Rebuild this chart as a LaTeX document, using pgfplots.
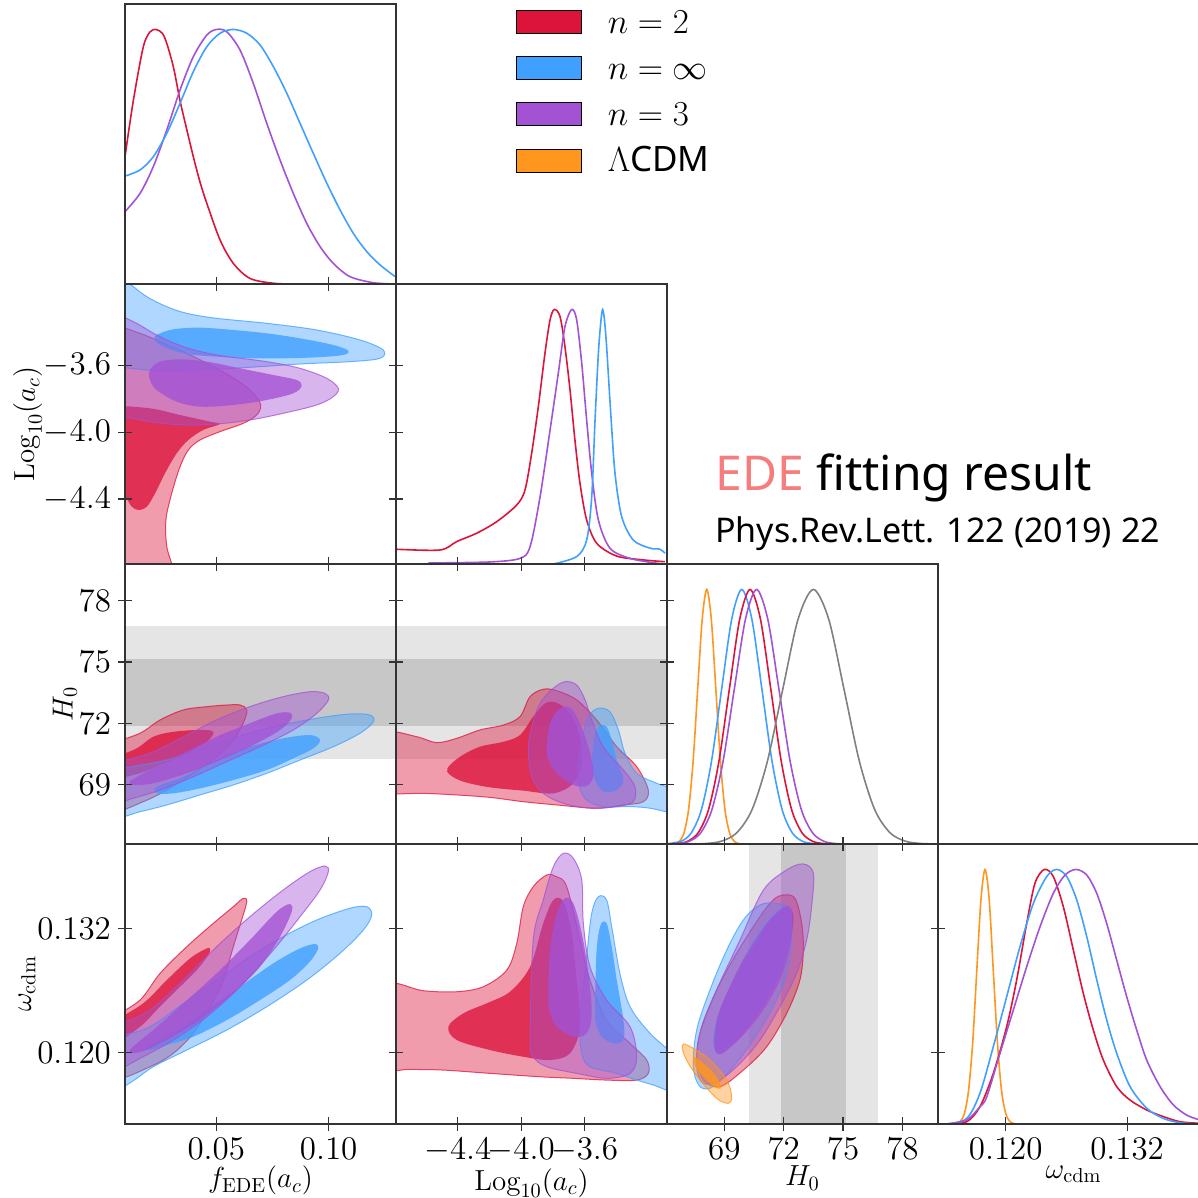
\RequirePackage{fix-cm}
\documentclass[border=0pt]{standalone}
\usepackage{fontspec}
\usepackage{pgfplots}
\pgfplotsset{compat=1.18}
\newfontfamily\ns{Noto Sans}
\definecolor{cR}{RGB}{220,20,60}
\definecolor{cB}{RGB}{64,160,255}
\definecolor{cP}{RGB}{163,82,212}
\definecolor{cO}{RGB}{255,150,30}
\definecolor{cG}{RGB}{128,128,128}
\definecolor{bandL}{RGB}{229,229,229}
\definecolor{bandD}{RGB}{199,199,199}
\definecolor{ede}{RGB}{245,125,125}
\newcommand\tickfont{\fontsize{16.5}{19}\selectfont}
\newcommand\labfont{\fontsize{14.5}{17}\selectfont}
\newcommand\legfont{\fontsize{17.5}{20}\selectfont}
\pgfplotsset{
 tri/.style={scale only axis, width=135.5pt, height=140pt, anchor=south west,
   axis on top, axis line style={line width=0.6pt, black!80},
   every tick/.style={line width=0.6pt, black!80},
   tick align=center, major tick length=7pt,
   tick label style={font=\tickfont}, label style={font=\labfont},
   xlabel shift=-3.5pt, ylabel shift=-6pt,
   xticklabels={,,,,}, yticklabels={,,,,}},
 colF/.style={xmin=0.0094, xmax=0.1300, xtick={0.05,0.10}},
 colL/.style={xmin=-4.79, xmax=-3.08, xtick={-4.4,-4.0,-3.6}},
 colH/.style={xmin=66.1, xmax=79.8, xtick={69,72,75,78}},
 colW/.style={xmin=0.1133, xmax=0.1401, xtick={0.120,0.132}},
 rowL/.style={ymin=-4.79, ymax=-3.11, ytick={-4.4,-4.0,-3.6}},
 rowH/.style={ymin=66.1, ymax=79.8, ytick={69,72,75,78}},
 rowW/.style={ymin=0.1131, ymax=0.1402, ytick={0.120,0.132}},
 oneD/.style={ymin=0, ymax=1.1, ytick=\empty, xtick pos=left},
 s2/.style={smooth cycle, tension=0.55, fill=#1, fill opacity=0.42, draw=#1, draw opacity=0.75, line width=0.5pt, forget plot},
 s1/.style={smooth cycle, tension=0.55, fill=#1, fill opacity=0.8, draw=none, forget plot},
 ln/.style={smooth, tension=0.5, draw=#1, line width=0.8pt, forget plot},
 bnd/.style={fill=#1, draw=none, forget plot},
}
\begin{document}
\begin{tikzpicture}
\path[use as bounding box, clip] (0,0) rectangle (599pt,599pt);
% ---------- (1,1) fEDE 1D
\begin{axis}[tri, colF, oneD, at={(62.5pt,457pt)},
  legend image code/.code={\fill[#1] (0pt,0pt) rectangle (32.5pt,11.5pt);},
  legend style={at={(1.4428,0.9786)}, anchor=north west, draw=none, fill=none,
    inner sep=0pt, outer sep=0pt, row sep=11.2pt, font=\legfont,
    nodes={inner sep=0pt, text height=11.5pt, text depth=0pt},
    cells={anchor=base west}, /tikz/every odd column/.append style={column sep=13pt}}]
\addplot[ln=cR] coordinates {(0.0094,0.50)(0.0131,0.72)(0.0175,0.93)(0.0205,0.99)(0.0232,1.00)(0.0260,0.985)(0.0280,0.945)(0.0310,0.85)(0.0339,0.72)(0.0368,0.61)(0.0398,0.50)(0.0428,0.40)(0.0458,0.317)(0.0517,0.173)(0.0576,0.081)(0.0650,0.022)(0.0754,0.003)(0.0873,0.0)(0.1300,0.0)};
\addplot[ln=cP] coordinates {(0.0094,0.284)(0.0161,0.356)(0.0220,0.461)(0.0280,0.605)(0.0339,0.762)(0.0398,0.893)(0.0458,0.978)(0.0502,1.0)(0.0547,0.991)(0.0606,0.919)(0.0665,0.788)(0.0725,0.631)(0.0784,0.487)(0.0843,0.356)(0.0903,0.238)(0.0962,0.147)(0.1021,0.081)(0.1095,0.029)(0.1199,0.005)(0.1300,0.0)};
\addplot[ln=cB] coordinates {(0.0094,0.424)(0.0161,0.448)(0.0220,0.500)(0.0280,0.592)(0.0339,0.710)(0.0398,0.834)(0.0458,0.932)(0.0517,0.985)(0.0576,1.0)(0.0636,0.985)(0.0695,0.939)(0.0754,0.854)(0.0814,0.749)(0.0873,0.631)(0.0932,0.513)(0.0992,0.396)(0.1051,0.291)(0.1110,0.199)(0.1170,0.127)(0.1229,0.075)(0.1296,0.029)};
\addlegendimage{fill=cR}\addlegendentry{$n=2$}
\addlegendimage{fill=cB}\addlegendentry{$n=\infty$}
\addlegendimage{fill=cP}\addlegendentry{$n=3$}
\addlegendimage{fill=cO}\addlegendentry{$\Lambda${\ns CDM}}
\end{axis}
% ---------- (2,1) fEDE vs log ac
\begin{axis}[tri, colF, rowL, at={(62.5pt,317pt)},
  yticklabels={$-4.4$,$-4.0$,$-3.6$}, ylabel={$\mathrm{Log}_{10}(a_c)$}]
\addplot[s2=cR] coordinates {(0.0161,-3.406)(0.0250,-3.456)(0.0369,-3.526)(0.0487,-3.606)(0.0591,-3.686)(0.0665,-3.766)(0.0698,-3.836)(0.0680,-3.896)(0.0620,-3.946)(0.0517,-3.996)(0.0428,-4.046)(0.0376,-4.106)(0.0339,-4.206)(0.0302,-4.366)(0.0276,-4.526)(0.0280,-4.686)(0.0310,-4.88)(0.0200,-5.0)(-0.002,-4.95)(-0.010,-4.3)(-0.010,-3.6)(-0.006,-3.40)(0.001,-3.345)};
\addplot[s1=cR] coordinates {(0.0205,-3.856)(0.0339,-3.896)(0.0472,-3.936)(0.0517,-3.950)(0.0442,-3.986)(0.0376,-4.046)(0.0324,-4.126)(0.0272,-4.246)(0.0228,-4.366)(0.0191,-4.446)(0.0153,-4.466)(0.0124,-4.446)(0.0102,-4.396)(0.007,-4.33)(0.000,-4.1)(0.000,-3.9)(0.004,-3.845)};
\addplot[s2=cB] coordinates {(0.0191,-3.186)(0.0280,-3.246)(0.0369,-3.286)(0.0502,-3.316)(0.0725,-3.346)(0.0947,-3.386)(0.1140,-3.446)(0.1243,-3.506)(0.1229,-3.556)(0.1095,-3.576)(0.0873,-3.590)(0.0650,-3.610)(0.0428,-3.626)(0.0280,-3.630)(0.0161,-3.622)(0.004,-3.59)(-0.004,-3.45)(-0.004,-3.15)(0.002,-3.03)(0.0105,-3.10)};
\addplot[s1=cB] coordinates {(0.0235,-3.416)(0.0309,-3.382)(0.0428,-3.372)(0.0576,-3.386)(0.0725,-3.406)(0.0873,-3.436)(0.1021,-3.476)(0.1088,-3.510)(0.1066,-3.536)(0.0947,-3.550)(0.0798,-3.556)(0.0650,-3.556)(0.0502,-3.546)(0.0369,-3.530)(0.0264,-3.486)(0.0228,-3.446)};
\addplot[s2=cP] coordinates {(0.0131,-3.336)(0.0235,-3.416)(0.0354,-3.486)(0.0502,-3.536)(0.0725,-3.576)(0.0873,-3.616)(0.0992,-3.676)(0.1043,-3.736)(0.1021,-3.786)(0.0947,-3.836)(0.0798,-3.886)(0.0650,-3.926)(0.0502,-3.950)(0.0354,-3.956)(0.0205,-3.936)(0.0131,-3.916)(0.005,-3.89)(-0.003,-3.7)(-0.003,-3.4)(0.003,-3.29)};
\addplot[s1=cP] coordinates {(0.0205,-3.626)(0.0250,-3.576)(0.0339,-3.562)(0.0458,-3.576)(0.0606,-3.616)(0.0754,-3.656)(0.0858,-3.686)(0.0880,-3.722)(0.0843,-3.766)(0.0725,-3.806)(0.0576,-3.836)(0.0428,-3.846)(0.0324,-3.816)(0.0235,-3.746)(0.0205,-3.686)};
\end{axis}
% ---------- (2,2) log ac 1D
\begin{axis}[tri, colL, oneD, at={(198pt,317pt)}]
\addplot[ln=cR] coordinates {(-4.79,0.058)(-4.512,0.055)(-4.407,0.088)(-4.281,0.121)(-4.155,0.166)(-4.028,0.232)(-3.976,0.291)(-3.934,0.435)(-3.892,0.618)(-3.850,0.828)(-3.818,0.959)(-3.791,1.0)(-3.755,0.972)(-3.724,0.854)(-3.692,0.684)(-3.661,0.487)(-3.629,0.317)(-3.587,0.173)(-3.523,0.081)(-3.397,0.031)(-3.229,0.016)(-3.093,0.009)};
\addplot[ln=cP] coordinates {(-4.586,0.004)(-4.197,0.008)(-4.008,0.022)(-3.944,0.068)(-3.881,0.264)(-3.818,0.526)(-3.766,0.749)(-3.724,0.932)(-3.681,1.0)(-3.650,0.959)(-3.618,0.788)(-3.587,0.566)(-3.555,0.356)(-3.513,0.173)(-3.440,0.062)(-3.313,0.022)(-3.145,0.003)(-3.08,0.0)};
\addplot[ln=cB] coordinates {(-3.797,0.0)(-3.650,0.029)(-3.587,0.094)(-3.555,0.264)(-3.534,0.566)(-3.513,0.828)(-3.497,0.955)(-3.486,1.0)(-3.475,0.96)(-3.461,0.854)(-3.435,0.592)(-3.408,0.356)(-3.366,0.186)(-3.293,0.094)(-3.187,0.062)(-3.124,0.058)(-3.093,0.042)};
\end{axis}
% ---------- (3,1) fEDE vs H0
\begin{axis}[tri, colF, rowH, at={(62.5pt,177pt)},
  yticklabels={$69$,$72$,$75$,$78$}, ylabel={$H_0$}]
\addplot[bnd=bandL] coordinates {(-1,70.24)(1,70.24)(1,76.76)(-1,76.76)} --cycle;
\addplot[bnd=bandD] coordinates {(-1,71.87)(1,71.87)(1,75.13)(-1,75.13)} --cycle;
\addplot[s2=cR] coordinates {(0.0161,71.52)(0.0250,72.17)(0.0354,72.66)(0.0458,72.82)(0.0547,72.90)(0.0606,72.90)(0.0636,72.66)(0.0620,72.01)(0.0576,71.19)(0.0502,70.37)(0.0398,69.56)(0.0280,68.74)(0.0175,68.17)(0.003,67.62)(-0.005,68.3)(-0.005,70.3)(0.003,70.98)};
\addplot[s1=cR] coordinates {(0.0146,70.78)(0.0220,71.35)(0.0309,71.59)(0.0428,71.68)(0.0487,71.59)(0.0458,71.10)(0.0369,70.54)(0.0250,69.96)(0.0161,69.56)(0.003,69.30)(-0.004,69.8)(0.003,70.25)};
\addplot[s2=cB] coordinates {(0.0280,70.21)(0.0502,71.03)(0.0725,71.76)(0.0947,72.25)(0.1095,72.46)(0.1184,72.41)(0.1199,72.08)(0.1140,71.52)(0.1021,70.86)(0.0873,70.21)(0.0725,69.56)(0.0576,68.99)(0.0428,68.50)(0.0280,68.01)(0.0161,67.68)(0.003,67.35)(-0.004,68.3)(-0.004,69.2)(0.004,69.7)};
\addplot[s1=cB] coordinates {(0.0235,68.90)(0.0354,69.39)(0.0502,70.21)(0.0650,70.86)(0.0798,71.27)(0.0917,71.43)(0.0962,71.19)(0.0932,70.78)(0.0843,70.29)(0.0725,69.72)(0.0576,69.23)(0.0428,68.82)(0.0309,68.58)(0.0235,68.58)};
\addplot[s2=cP] coordinates {(0.0205,70.54)(0.0354,71.35)(0.0502,72.17)(0.0650,72.82)(0.0798,73.31)(0.0917,73.55)(0.0984,73.47)(0.0999,73.15)(0.0947,72.49)(0.0843,71.68)(0.0695,70.86)(0.0547,70.13)(0.0398,69.39)(0.0250,68.74)(0.0131,68.34)(0.002,68.05)(-0.005,68.8)(-0.005,69.5)(0.003,70.0)};
\addplot[s1=cP] coordinates {(0.0124,69.23)(0.0205,69.72)(0.0354,70.54)(0.0502,71.35)(0.0650,72.01)(0.0769,72.49)(0.0828,72.52)(0.0836,72.25)(0.0784,71.68)(0.0665,70.94)(0.0517,70.21)(0.0369,69.56)(0.0220,69.07)(0.0131,68.99)(0.0116,69.10)};
\end{axis}
% ---------- (3,2) log ac vs H0
\begin{axis}[tri, colL, rowH, at={(198pt,177pt)}]
\addplot[bnd=bandL] coordinates {(-6,70.24)(-2,70.24)(-2,76.76)(-6,76.76)} --cycle;
\addplot[bnd=bandD] coordinates {(-6,71.87)(-2,71.87)(-2,75.13)(-6,75.13)} --cycle;
\addplot[s2=cR] coordinates {(-4.659,71.35)(-4.533,71.06)(-4.407,71.27)(-4.260,71.68)(-4.113,71.92)(-4.008,72.33)(-3.944,73.31)(-3.861,73.67)(-3.776,73.60)(-3.650,73.15)(-3.524,72.17)(-3.397,70.86)(-3.271,69.88)(-3.198,68.74)(-3.229,68.17)(-3.355,68.01)(-3.524,67.85)(-3.776,68.01)(-3.987,68.17)(-4.197,68.38)(-4.407,68.50)(-4.618,68.58)(-4.86,68.62)(-4.90,69.5)(-4.90,70.8)(-4.86,71.62)};
\addplot[s1=cR] coordinates {(-4.466,69.80)(-4.386,70.37)(-4.260,70.86)(-4.113,71.10)(-4.008,71.43)(-3.924,72.33)(-3.850,72.98)(-3.776,73.01)(-3.692,72.49)(-3.629,71.35)(-3.618,70.05)(-3.671,69.07)(-3.797,68.58)(-3.987,68.71)(-4.197,68.87)(-4.365,69.15)(-4.449,69.48)};
\addplot[s2=cB] coordinates {(-3.640,69.88)(-3.618,71.19)(-3.576,72.33)(-3.513,72.74)(-3.440,72.57)(-3.387,71.68)(-3.345,70.54)(-3.271,69.56)(-3.145,69.07)(-3.02,68.7)(-2.98,68.0)(-3.02,67.6)(-3.187,67.85)(-3.313,67.93)(-3.482,67.93)(-3.587,68.25)(-3.633,68.90)};
\addplot[s1=cB] coordinates {(-3.545,70.86)(-3.534,71.52)(-3.503,71.89)(-3.461,71.84)(-3.429,71.19)(-3.397,70.21)(-3.355,69.23)(-3.397,68.74)(-3.482,68.66)(-3.534,69.23)(-3.555,70.05)};
\addplot[s2=cP] coordinates {(-3.955,70.70)(-3.934,71.84)(-3.881,72.98)(-3.797,73.72)(-3.724,74.04)(-3.650,73.88)(-3.597,73.15)(-3.555,72.17)(-3.482,70.86)(-3.355,69.72)(-3.282,68.90)(-3.293,68.17)(-3.397,67.93)(-3.566,67.85)(-3.734,68.09)(-3.861,68.58)(-3.934,69.39)};
\addplot[s1=cP] coordinates {(-3.839,70.86)(-3.818,72.01)(-3.766,72.66)(-3.703,72.82)(-3.650,72.33)(-3.597,71.35)(-3.555,70.21)(-3.545,69.39)(-3.587,68.94)(-3.671,68.99)(-3.776,69.56)(-3.829,70.21)};
\end{axis}
% ---------- (3,3) H0 1D
\begin{axis}[tri, colH, oneD, at={(333.5pt,177pt)}]
\addplot[ln=cO] coordinates {(66.1,0.0)(66.50,0.002)(66.73,0.011)(66.96,0.044)(67.19,0.135)(67.42,0.325)(67.65,0.607)(67.88,0.883)(68.11,1.0)(68.34,0.883)(68.57,0.607)(68.80,0.325)(69.03,0.135)(69.26,0.044)(69.49,0.011)(69.72,0.002)(69.95,0.0)(70.5,0.0)};
\addplot[ln=cB] coordinates {(66.1,0.001)(66.82,0.011)(67.33,0.044)(67.84,0.135)(68.35,0.325)(68.86,0.607)(69.37,0.883)(69.88,1.0)(70.39,0.883)(70.90,0.607)(71.41,0.325)(71.92,0.135)(72.43,0.044)(72.94,0.011)(73.45,0.002)(73.96,0.0)(74.5,0.0)};
\addplot[ln=cR] coordinates {(66.1,0.0003)(66.63,0.002)(67.15,0.011)(67.675,0.044)(68.20,0.135)(68.725,0.325)(69.25,0.607)(69.775,0.883)(70.30,1.0)(70.825,0.883)(71.35,0.607)(71.875,0.325)(72.40,0.135)(72.925,0.044)(73.45,0.011)(73.975,0.002)(74.50,0.0)(75.0,0.0)};
\addplot[ln=cP] coordinates {(66.11,0.0003)(66.675,0.002)(67.24,0.011)(67.805,0.044)(68.37,0.135)(68.935,0.325)(69.50,0.607)(70.065,0.883)(70.63,1.0)(71.195,0.883)(71.76,0.607)(72.325,0.325)(72.89,0.135)(73.455,0.044)(74.02,0.011)(74.585,0.002)(75.15,0.0)(75.6,0.0)};
\addplot[ln=cG] coordinates {(66.1,0.0)(67.30,0.0003)(68.075,0.002)(68.85,0.011)(69.625,0.044)(70.40,0.135)(71.175,0.325)(71.95,0.607)(72.725,0.883)(73.50,1.0)(74.275,0.883)(75.05,0.607)(75.825,0.325)(76.60,0.135)(77.375,0.044)(78.15,0.011)(78.925,0.002)(79.70,0.0003)};
\end{axis}
% ---------- (4,1) fEDE vs omega
\begin{axis}[tri, colF, rowW, at={(62.5pt,37pt)},
  yticklabels={$0.120$,$0.132$}, ylabel={$\omega_{\mathrm{cdm}}$},
  xticklabels={$0.05$,$0.10$}, xlabel={$f_{\mathrm{EDE}}(a_c)$}]
\addplot[s2=cR] coordinates {(0.0161,0.12510)(0.0250,0.12768)(0.0369,0.13026)(0.0487,0.13252)(0.0576,0.13413)(0.0620,0.13494)(0.0636,0.13461)(0.0613,0.13284)(0.0576,0.13026)(0.0532,0.12703)(0.0472,0.12445)(0.0398,0.12188)(0.0309,0.11994)(0.0205,0.11864)(0.004,0.11740)(-0.004,0.1195)(-0.004,0.1220)(0.004,0.12340)};
\addplot[s1=cR] coordinates {(0.0175,0.12478)(0.0280,0.12703)(0.0384,0.12914)(0.0450,0.13001)(0.0472,0.13010)(0.0465,0.12946)(0.0413,0.12800)(0.0324,0.12607)(0.0235,0.12413)(0.0161,0.12251)(0.004,0.12090)(-0.003,0.1220)(0.004,0.12300)};
\addplot[s2=cB] coordinates {(0.0205,0.12251)(0.0354,0.12478)(0.0502,0.12703)(0.0650,0.12929)(0.0798,0.13123)(0.0947,0.13284)(0.1095,0.13398)(0.1170,0.13413)(0.1192,0.13333)(0.1155,0.13188)(0.1051,0.12962)(0.0903,0.12703)(0.0725,0.12445)(0.0547,0.12220)(0.0369,0.12026)(0.0220,0.11864)(0.0124,0.11719)(0.003,0.1162)(-0.004,0.1180)(-0.003,0.1205)(0.006,0.12150)};
\addplot[s1=cB] coordinates {(0.0191,0.12058)(0.0309,0.12188)(0.0458,0.12413)(0.0606,0.12639)(0.0754,0.12865)(0.0873,0.13010)(0.0940,0.13052)(0.0954,0.13010)(0.0917,0.12881)(0.0828,0.12703)(0.0695,0.12510)(0.0547,0.12316)(0.0398,0.12155)(0.0280,0.12074)(0.0205,0.12026)};
\addplot[s2=cP] coordinates {(0.0205,0.12413)(0.0354,0.12703)(0.0502,0.13026)(0.0650,0.13316)(0.0798,0.13575)(0.0917,0.13752)(0.0984,0.13807)(0.0999,0.13752)(0.0962,0.13575)(0.0873,0.13316)(0.0754,0.12994)(0.0606,0.12639)(0.0458,0.12348)(0.0309,0.12123)(0.0175,0.11962)(0.003,0.1182)(-0.004,0.1200)(-0.003,0.1215)(0.005,0.12250)};
\addplot[s1=cP] coordinates {(0.0115,0.12025)(0.0220,0.12220)(0.0354,0.12478)(0.0502,0.12768)(0.0650,0.13091)(0.0769,0.13365)(0.0828,0.13439)(0.0836,0.13365)(0.0784,0.13123)(0.0695,0.12832)(0.0576,0.12575)(0.0428,0.12316)(0.0280,0.12123)(0.0161,0.12005)};
\end{axis}
% ---------- (4,2) log ac vs omega
\begin{axis}[tri, colL, rowW, at={(198pt,37pt)},
  xticklabels={$-4.4$,$-4.0$,$-3.6$}, xlabel={$\mathrm{Log}_{10}(a_c)$}]
\addplot[s2=cR] coordinates {(-4.618,0.12600)(-4.407,0.12590)(-4.239,0.12639)(-4.091,0.12800)(-4.028,0.13059)(-3.987,0.13413)(-3.924,0.13607)(-3.839,0.13720)(-3.776,0.13703)(-3.713,0.13607)(-3.629,0.13091)(-3.566,0.12703)(-3.461,0.12316)(-3.313,0.12090)(-3.208,0.11929)(-3.198,0.11800)(-3.271,0.11735)(-3.461,0.11735)(-3.671,0.11752)(-3.881,0.11767)(-4.197,0.11800)(-4.491,0.11832)(-4.702,0.11839)(-4.86,0.1185)(-4.90,0.1220)(-4.86,0.12660)};
\addplot[s1=cR] coordinates {(-4.460,0.12251)(-4.365,0.12381)(-4.218,0.12478)(-4.071,0.12590)(-3.944,0.12832)(-3.861,0.13252)(-3.797,0.13478)(-3.734,0.13461)(-3.681,0.13156)(-3.650,0.12703)(-3.629,0.12251)(-3.692,0.11994)(-3.818,0.11929)(-3.987,0.11961)(-4.197,0.12026)(-4.407,0.12123)};
\addplot[s2=cB] coordinates {(-3.629,0.12284)(-3.587,0.12929)(-3.555,0.13349)(-3.513,0.13510)(-3.461,0.13478)(-3.429,0.13220)(-3.377,0.12768)(-3.313,0.12445)(-3.187,0.12188)(-3.02,0.1195)(-2.99,0.1180)(-3.02,0.1162)(-3.166,0.11687)(-3.271,0.11735)(-3.397,0.11800)(-3.566,0.11864)(-3.618,0.11994)};
\addplot[s1=cB] coordinates {(-3.534,0.12445)(-3.524,0.12994)(-3.499,0.13236)(-3.461,0.13252)(-3.429,0.13026)(-3.397,0.12703)(-3.355,0.12316)(-3.355,0.12123)(-3.419,0.12090)(-3.492,0.12155)(-3.528,0.12284)};
\addplot[s2=cP] coordinates {(-3.944,0.12123)(-3.924,0.13091)(-3.861,0.13478)(-3.797,0.13800)(-3.734,0.13930)(-3.671,0.13881)(-3.618,0.13672)(-3.608,0.13252)(-3.566,0.12832)(-3.461,0.12510)(-3.313,0.12251)(-3.271,0.11961)(-3.313,0.11800)(-3.461,0.11752)(-3.650,0.11800)(-3.839,0.11864)(-3.924,0.11961)};
\addplot[s1=cP] coordinates {(-3.829,0.12542)(-3.818,0.12994)(-3.776,0.13349)(-3.724,0.13494)(-3.671,0.13446)(-3.618,0.13156)(-3.576,0.12768)(-3.555,0.12381)(-3.587,0.12188)(-3.671,0.12155)(-3.776,0.12251)(-3.818,0.12381)};
\end{axis}
% ---------- (4,3) H0 vs omega
\begin{axis}[tri, colH, rowW, at={(333.5pt,37pt)},
  xticklabels={$69$,$72$,$75$,$78$}, xlabel={$H_0$}]
\addplot[bnd=bandL] coordinates {(70.24,0.10)(76.76,0.10)(76.76,0.15)(70.24,0.15)} --cycle;
\addplot[bnd=bandD] coordinates {(71.87,0.10)(75.13,0.10)(75.13,0.15)(71.87,0.15)} --cycle;
\addplot[s2=cR] coordinates {(71.98,0.13527)(72.57,0.13494)(72.91,0.13252)(72.99,0.12994)(72.82,0.12704)(72.15,0.12381)(71.14,0.12058)(69.96,0.11832)(68.78,0.11671)(67.94,0.11736)(67.60,0.11961)(67.85,0.12252)(68.61,0.12607)(69.62,0.12962)(70.80,0.13317)(71.47,0.13478)};
\addplot[s1=cR] coordinates {(72.32,0.13397)(72.49,0.13285)(72.23,0.12994)(71.64,0.12704)(70.80,0.12413)(69.79,0.12155)(68.95,0.12026)(68.53,0.12074)(68.61,0.12316)(69.28,0.12639)(70.13,0.12962)(71.14,0.13252)(71.90,0.13381)};
\addplot[s2=cB] coordinates {(70.80,0.13430)(71.64,0.13446)(72.32,0.13381)(72.40,0.13091)(72.15,0.12768)(71.47,0.12446)(70.46,0.12123)(69.45,0.11865)(68.44,0.11671)(67.77,0.11671)(67.43,0.11865)(67.60,0.12220)(68.27,0.12607)(69.12,0.12994)(69.96,0.13285)};
\addplot[s1=cB] coordinates {(72.07,0.13413)(72.40,0.13365)(72.32,0.13091)(71.81,0.12768)(70.97,0.12478)(69.96,0.12220)(69.12,0.12026)(68.61,0.11994)(68.44,0.12155)(68.86,0.12446)(69.62,0.12768)(70.63,0.13123)(71.47,0.13333)};
\addplot[s2=cP] coordinates {(72.15,0.13769)(72.99,0.13827)(73.50,0.13736)(73.41,0.13414)(73.16,0.13091)(72.65,0.12768)(71.81,0.12446)(70.80,0.12123)(69.79,0.11897)(68.78,0.11736)(67.94,0.11703)(67.60,0.11865)(67.77,0.12187)(68.61,0.12607)(69.79,0.13091)(70.97,0.13573)};
\addplot[s1=cP] coordinates {(72.15,0.13420)(72.45,0.13333)(72.32,0.13026)(71.81,0.12704)(70.97,0.12413)(69.96,0.12171)(69.03,0.12010)(68.61,0.11994)(68.49,0.12123)(68.78,0.12413)(69.45,0.12704)(70.30,0.12994)(71.31,0.13285)};
\addplot[s2=cO] coordinates {(66.93,0.12084)(67.43,0.12042)(68.27,0.11929)(69.12,0.11736)(69.37,0.11574)(69.20,0.11510)(68.61,0.11558)(67.77,0.11736)(67.18,0.11897)(66.89,0.12026)};
\addplot[s1=cO] coordinates {(67.43,0.11961)(67.94,0.11897)(68.53,0.11784)(68.86,0.11671)(68.61,0.11655)(68.02,0.11752)(67.57,0.11849)};
\end{axis}
% ---------- (4,4) omega 1D
\begin{axis}[tri, colW, oneD, at={(469pt,37pt)},
  xticklabels={$0.120$,$0.132$}, xlabel={$\omega_{\mathrm{cdm}}$}]
\addplot[ln=cO] coordinates {(0.1133,0.0)(0.11471,0.0003)(0.11512,0.002)(0.11552,0.011)(0.11593,0.044)(0.11633,0.135)(0.11674,0.325)(0.11714,0.607)(0.11755,0.883)(0.11795,1.0)(0.11836,0.883)(0.11876,0.607)(0.11917,0.325)(0.11957,0.135)(0.11998,0.044)(0.12038,0.011)(0.12079,0.002)(0.12119,0.0003)(0.1230,0.0)};
\addplot[ln=cR] coordinates {(0.1133,0.0)(0.11416,0.0)(0.11614,0.009)(0.11745,0.068)(0.11877,0.199)(0.12009,0.382)(0.12108,0.566)(0.12207,0.788)(0.12289,0.946)(0.12381,1.0)(0.12470,0.972)(0.12569,0.854)(0.12668,0.684)(0.12767,0.513)(0.12866,0.369)(0.12965,0.251)(0.13097,0.147)(0.13229,0.094)(0.13394,0.055)(0.13558,0.029)(0.13723,0.009)(0.13901,0.003)};
\addplot[ln=cB] coordinates {(0.1133,0.0)(0.11416,0.0)(0.11614,0.022)(0.11745,0.121)(0.11877,0.304)(0.12009,0.500)(0.12141,0.697)(0.12273,0.867)(0.12405,0.972)(0.12504,1.0)(0.12603,0.972)(0.12702,0.880)(0.12801,0.736)(0.12900,0.566)(0.12998,0.409)(0.13097,0.278)(0.13229,0.147)(0.13394,0.062)(0.13558,0.022)(0.13723,0.005)(0.13901,0.0)};
\addplot[ln=cP] coordinates {(0.1133,0.0)(0.11416,0.0)(0.11614,0.016)(0.11745,0.068)(0.11812,0.107)(0.11943,0.278)(0.12075,0.448)(0.12207,0.618)(0.12339,0.775)(0.12470,0.906)(0.12586,0.978)(0.12695,1.0)(0.12801,0.978)(0.12900,0.906)(0.12998,0.788)(0.13097,0.644)(0.13196,0.500)(0.13295,0.369)(0.13394,0.251)(0.13526,0.147)(0.13657,0.075)(0.13789,0.035)(0.13901,0.018)};
\end{axis}
% ---------- text
\node[anchor=base west, inner sep=0pt, font=\ns\fontsize{24}{28}\selectfont] at (357.5pt,353.5pt) {\textcolor{ede}{EDE} fitting result};
\node[anchor=base west, inner sep=0pt, font=\ns\fontsize{17}{20}\selectfont] at (357.5pt,327.5pt) {Phys.Rev.Lett. 122 (2019) 22};
\end{tikzpicture}
\end{document}
